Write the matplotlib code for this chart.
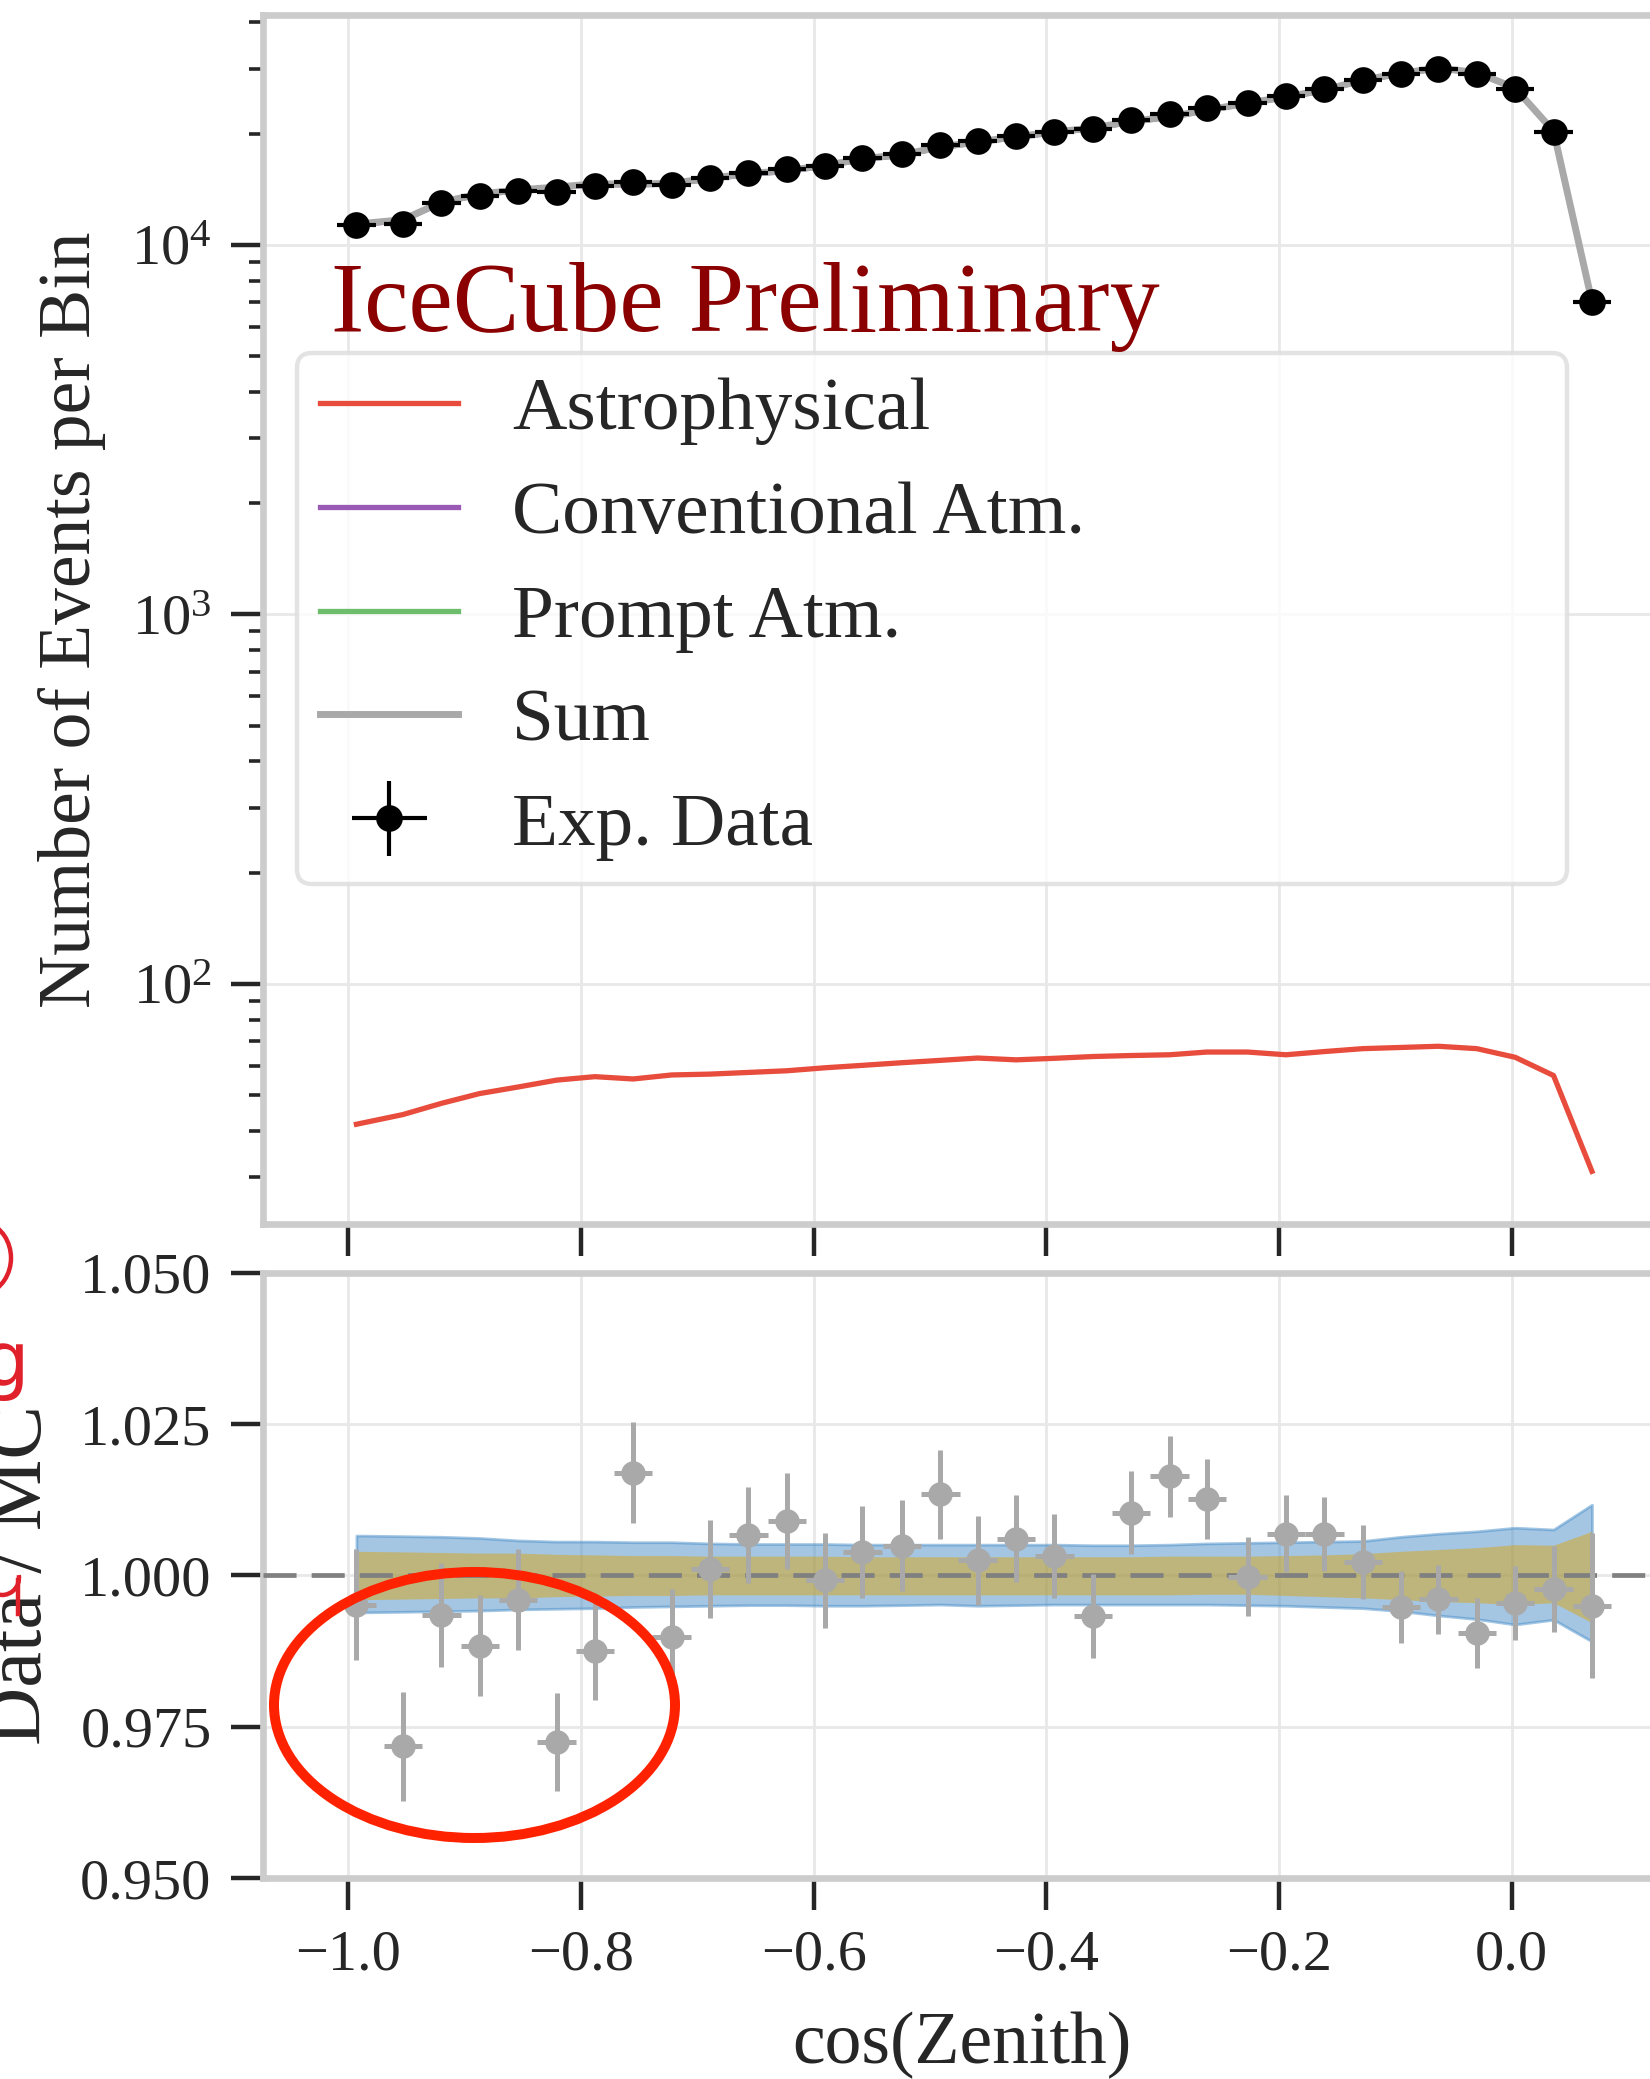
import numpy as np
import matplotlib
matplotlib.use('Agg')
import matplotlib.pyplot as plt
from matplotlib.patches import Ellipse, Arc
from matplotlib.ticker import FormatStrFormatter, FuncFormatter

plt.rcParams['font.family'] = ['Liberation Serif', 'DejaVu Serif']
plt.rcParams['mathtext.fontset'] = 'custom'
plt.rcParams['mathtext.rm'] = 'Liberation Serif'
plt.rcParams['axes.unicode_minus'] = True

# bin centres in cos(zenith)
cos_zen = [-0.993, -0.953, -0.920, -0.887, -0.854, -0.821, -0.788, -0.755, -0.722,
           -0.689, -0.656, -0.623, -0.590, -0.558, -0.524, -0.491, -0.459, -0.426,
           -0.393, -0.360, -0.327, -0.294, -0.262, -0.227, -0.194, -0.161, -0.128,
           -0.095, -0.063, -0.030, 0.003, 0.036, 0.069]
bin_half = 0.0165

# events per bin
exp_data = [11330, 11370, 12970, 13575, 14030, 13940, 14450, 14840, 14540, 15160,
            15700, 16030, 16400, 17170, 17640, 18660, 19050, 19740, 20270, 20580,
            21810, 22600, 23460, 24200, 25320, 26450, 27990, 29000, 29980, 29000,
            26450, 20270, 6997]
astro = [41.7, 44.3, 47.5, 50.5, 52.6, 54.9, 56.1, 55.3, 56.7, 57.0, 57.6, 58.2,
         59.3, 60.2, 61.2, 62.1, 63.0, 62.3, 62.9, 63.6, 64.0, 64.3, 65.4, 65.4,
         64.3, 65.6, 66.8, 67.3, 67.8, 66.8, 63.3, 56.5, 31.1]
conv = [11333, 11646, 12997, 13674, 14023, 14269, 14567, 14527, 14621, 15076,
        15527, 15818, 16343, 17032, 17482, 18340, 18928, 19546, 20130, 20643,
        21509, 22159, 23088, 24127, 25069, 26190, 27848, 29071, 30015, 29197,
        26494, 20247, 6996]
prompt = [10, 10, 10, 10, 10, 10, 10, 10, 10, 10, 10, 11, 11, 11, 11, 11, 11, 12,
          12, 12, 12, 12, 13, 13, 13, 13, 14, 14, 14, 14, 13, 11, 5]

# data / MC
ratio = [0.9952, 0.9718, 0.9935, 0.9884, 0.9960, 0.9725, 0.9875, 1.0170, 0.9899,
         1.0011, 1.0067, 1.0090, 0.9992, 1.0039, 1.0049, 1.0134, 1.0025, 1.0061,
         1.0032, 0.9933, 1.0104, 1.0164, 1.0127, 0.9998, 1.0069, 1.0069, 1.0022,
         0.9948, 0.9961, 0.9905, 0.9955, 0.9978, 0.9950]
ratio_err = [0.0092, 0.0090, 0.0086, 0.0084, 0.0083, 0.0081, 0.0080, 0.0083, 0.0079,
             0.0081, 0.0079, 0.0080, 0.0078, 0.0076, 0.0075, 0.0073, 0.0073, 0.0072,
             0.0070, 0.0069, 0.0069, 0.0067, 0.0066, 0.0065, 0.0064, 0.0061, 0.0061,
             0.0059, 0.0057, 0.0058, 0.0061, 0.0071, 0.0120]
blue_hi = [1.0066, 1.0065, 1.0064, 1.0062, 1.0058, 1.0056, 1.0056, 1.0055, 1.0055,
           1.0053, 1.0052, 1.0052, 1.0052, 1.0051, 1.0051, 1.0051, 1.0051, 1.0051,
           1.0051, 1.0050, 1.0050, 1.0051, 1.0053, 1.0054, 1.0055, 1.0056, 1.0057,
           1.0064, 1.0069, 1.0073, 1.0079, 1.0076, 1.0117]
blue_lo = [0.9939, 0.9940, 0.9941, 0.9942, 0.9944, 0.9945, 0.9946, 0.9948, 0.9949,
           0.9950, 0.9951, 0.9951, 0.9950, 0.9950, 0.9951, 0.9952, 0.9950, 0.9951,
           0.9952, 0.9952, 0.9952, 0.9952, 0.9952, 0.9951, 0.9950, 0.9948, 0.9946,
           0.9941, 0.9934, 0.9928, 0.9919, 0.9927, 0.9891]
olive_hi = [1.0040, 1.0039, 1.0038, 1.0037, 1.0037, 1.0035, 1.0034, 1.0033, 1.0033,
            1.0032, 1.0032, 1.0032, 1.0032, 1.0031, 1.0031, 1.0031, 1.0031, 1.0031,
            1.0031, 1.0031, 1.0031, 1.0032, 1.0032, 1.0032, 1.0033, 1.0034, 1.0036,
            1.0040, 1.0043, 1.0046, 1.0051, 1.0050, 1.0073]
olive_lo = [0.9960, 0.9961, 0.9962, 0.9963, 0.9963, 0.9965, 0.9966, 0.9967, 0.9967,
            0.9968, 0.9968, 0.9968, 0.9968, 0.9968, 0.9968, 0.9968, 0.9968, 0.9968,
            0.9968, 0.9968, 0.9968, 0.9968, 0.9969, 0.9969, 0.9967, 0.9965, 0.9963,
            0.9960, 0.9957, 0.9955, 0.9952, 0.9955, 0.9922]

x = np.array(cos_zen)
mc_sum = np.array(conv) + np.array(astro) + np.array(prompt)
data_err = np.sqrt(np.array(exp_data))

spine_col = '#cccccc'
text_col = '#262626'
fs_tick = 21
fs_lab = 26.5

fig = plt.figure(figsize=(8.25, 10.395), dpi=200)
ax1 = fig.add_axes([0.15939, 0.41126, 0.84667, 0.58153])
ax2 = fig.add_axes([0.15939, 0.09668, 0.84667, 0.29101], sharex=ax1)

for ax in (ax1, ax2):
    for s in ax.spines.values():
        s.set_color(spine_col)
        s.set_linewidth(2.4)
    ax.grid(True, color='#e8e8e8', lw=1.0, zorder=0)
    ax.set_axisbelow(True)
    ax.tick_params(which='major', direction='out', length=11.5, width=1.6,
                   color=text_col, labelcolor=text_col, labelsize=fs_tick, pad=7)
    ax.tick_params(which='minor', direction='out', length=5, width=1.3, color=text_col)
    ax.tick_params(axis='x', top=False)
    ax.tick_params(axis='y', right=False)

# upper panel
ax1.set_yscale('log')
ax1.plot(x, astro, color='#e74c3c', lw=1.9, label='Astrophysical', zorder=3)
ax1.plot(x, conv, color='#9b59b6', lw=1.9, label='Conventional Atm.', zorder=3)
ax1.plot(x, prompt, color='#6dbd6d', lw=1.9, label='Prompt Atm.', zorder=3)
ax1.plot(x, mc_sum, color='#a9a9a9', lw=2.5, label='Sum', zorder=4)
ax1.errorbar(x, exp_data, xerr=bin_half, yerr=data_err, fmt='o', color='black',
             ms=8.6, elinewidth=1.5, capsize=0, label='Exp. Data', zorder=5)
ax1.set_ylim(22.4, 41900)
ax1.set_xlim(-1.0733, 0.1275)
ax1.tick_params(axis='x', labelbottom=False)
ax1.set_ylabel('Number of Events per Bin', fontsize=fs_lab, color=text_col, labelpad=9)

ax1.text(0.0487, 0.7386, 'IceCube Preliminary', transform=ax1.transAxes,
         fontsize=35.9, color='#8b0000', va='baseline', ha='left', zorder=6)

handles, labels = ax1.get_legend_handles_labels()
leg = ax1.legend(handles, labels, loc='upper left', bbox_to_anchor=(0.0243, 0.0, 0.909, 0.7204),
                 mode='expand', borderaxespad=0, fontsize=27.1, handlelength=1.83,
                 handletextpad=0.72, labelspacing=0.468, borderpad=0.31, frameon=True,
                 fancybox=True, framealpha=0.8, edgecolor='#dddddd')
leg.get_frame().set_linewidth(1.6)
for t in leg.get_texts():
    t.set_color(text_col)

# lower panel
ax2.fill_between(x, blue_lo, blue_hi, color='#4a8fc9', alpha=0.5, lw=1.0,
                 edgecolor='#4a8fc9', zorder=2)
ax2.fill_between(x, olive_lo, olive_hi, color='#d9a517', alpha=0.5, lw=0, zorder=3)
ax2.axhline(1.0, color='#808080', lw=1.7, dashes=(7, 3.2), zorder=4)
ax2.errorbar(x, ratio, xerr=bin_half, yerr=ratio_err, fmt='o', color='#a9a9a9',
             ms=7.8, elinewidth=1.8, capsize=0, zorder=5)
ax2.set_ylim(0.95, 1.05)
ax2.set_yticks([0.950, 0.975, 1.000, 1.025, 1.050])
ax2.yaxis.set_major_formatter(FormatStrFormatter('%.3f'))
ax2.set_xticks([-1.0, -0.8, -0.6, -0.4, -0.2, 0.0])
ax2.xaxis.set_major_formatter(FuncFormatter(lambda v, p: f'{v:.1f}'.replace('-', '\u2212')))
ax2.set_xlim(-1.0733, 0.1275)
ax2.set_ylabel('Data / MC', fontsize=29, color=text_col, labelpad=8)
ax2.set_xlabel('cos(Zenith)', fontsize=fs_lab, color=text_col, labelpad=11)

# hand-drawn red marks on top of the figure
ov = fig.add_axes([0, 0, 1, 1], zorder=10)
ov.set_xlim(0, 1650)
ov.set_ylim(2079, 0)
ov.axis('off')
ov.patch.set_alpha(0)
ov.add_patch(Ellipse((474.5, 1705), 401, 266, fill=False, ec='#ff2200', lw=3.6))
ov.add_patch(Arc((-22, 1258), 66, 74, theta1=-75, theta2=75, ec='#e0202a', lw=1.6))
ov.text(29, 1385, 'g', color='#e0202a', fontsize=27, ha='right', va='baseline',
        family=['DejaVu Sans'])
ov.add_patch(Arc((2, 1578), 34, 34, theta1=-10, theta2=110, ec='#e0202a', lw=1.6))
ov.plot([18, 18], [1580, 1614], color='#e0202a', lw=1.6)

fig.savefig('out.png', dpi=200)
